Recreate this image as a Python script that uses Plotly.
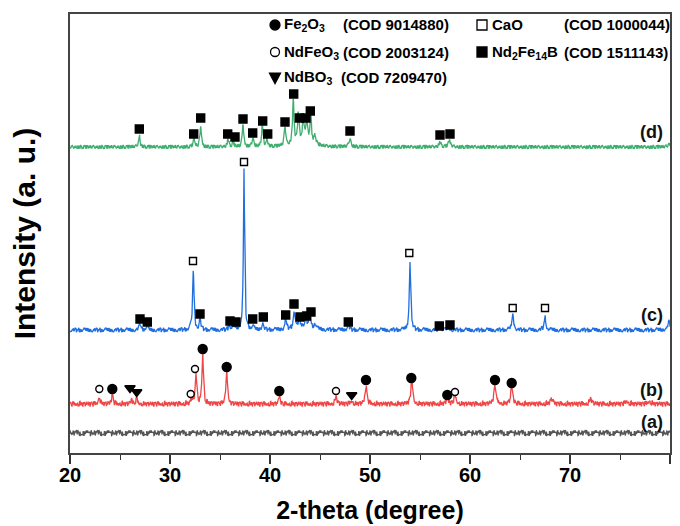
import numpy as np
import plotly.graph_objects as go

# ---------------- data ----------------
TWO_THETA = np.round(np.arange(20.0, 80.0001, 0.04), 3)

OFFSET_A, OFFSET_B, OFFSET_C, OFFSET_D = 20, 49, 123, 306

# (d) green pattern: Nd2Fe14B reflections
D_POS = [26.93, 32.40, 33.07, 35.80, 36.30, 37.30, 38.27, 39.23, 39.70, 41.50,
         42.33, 42.83, 43.33, 43.67, 44.07, 44.50, 43.30, 48.00, 57.00, 57.93, 79.9]
D_HGT = [12, 9, 22, 8, 6, 24, 10, 22, 8, 19,
         45, 30, 26, 24, 31, 9, 6, 8, 5, 7, 3]
D_WID = [0.09, 0.09, 0.08, 0.09, 0.09, 0.08, 0.09, 0.08, 0.09, 0.09,
         0.08, 0.08, 0.08, 0.08, 0.08, 0.12, 0.9, 0.12, 0.12, 0.12, 0.15]

# (c) blue pattern: CaO + Nd2Fe14B
C_POS = [27.00, 27.67, 32.33, 33.00, 35.93, 36.50, 37.40, 38.27, 39.27, 41.57,
         42.40, 42.93, 43.60, 44.00, 44.50, 43.30, 47.83, 54.00, 57.00, 57.90,
         64.27, 67.50, 79.90]
C_HGT = [7, 4, 61, 11, 6, 4, 160, 4, 7, 10,
         18, 7, 8, 11, 5, 4, 4, 69, 3, 3,
         16, 13, 8]
C_WID = [0.09, 0.09, 0.08, 0.09, 0.09, 0.09, 0.07, 0.09, 0.09, 0.09,
         0.09, 0.09, 0.09, 0.09, 0.12, 0.8, 0.12, 0.08, 0.12, 0.12,
         0.10, 0.10, 0.15]

# (b) red pattern: Fe2O3 + NdFeO3 + NdBO3
B_POS = [22.93, 24.23, 26.17, 26.67, 32.17, 32.60, 33.27, 35.67, 40.93, 46.60,
         48.17, 49.60, 54.17, 57.73, 58.50, 62.50, 64.17, 68.17, 72.07, 75.67, 77.93]
B_HGT = [7, 9, 4, 5, 5, 32, 52, 36, 8, 7,
         3, 19, 26, 6, 9, 19, 17, 5, 5, 3, 3]
B_WID = [0.09, 0.09, 0.1, 0.1, 0.1, 0.08, 0.08, 0.08, 0.09, 0.12,
         0.12, 0.10, 0.10, 0.12, 0.12, 0.12, 0.12, 0.15, 0.15, 0.15, 0.15]

# (a) gray pattern: amorphous, no reflections
A_POS = []
A_HGT = []
A_WID = []

# hand-read background jitter (fraction of amplitude)
JITTER = [0.3, -0.8, 0.5, 1.0, -0.4, -0.9, 0.7, 0.1, -0.6, 0.9, -0.2, 0.4, -1.0,
          0.6, 0.2, -0.7, 0.8, -0.3, 0.0, 0.5, -0.9, 0.3, 0.7, -0.5, -0.1, 0.9,
          -0.8, 0.4, 0.2, -0.6, 1.0, -0.4, 0.1, -0.7, 0.6, 0.3, -1.0, 0.8, -0.2,
          0.5, -0.5, 0.7, -0.9, 0.0, 0.4, -0.3, 0.9, -0.6, 0.2, -0.8, 0.6, -0.1, 0.3]
JITTER_AMP = {"a": 2.8, "b": 2.6, "c": 2.2, "d": 2.0}

# phase markers (2-theta, intensity)
D_NDFEB_X = [26.93, 32.37, 33.07, 35.77, 36.50, 37.30, 38.27, 39.27, 39.77, 41.50,
             42.37, 42.93, 43.60, 44.03, 48.00, 57.00, 58.00]
D_NDFEB_Y = [324, 319, 335, 319, 316, 334, 320, 332, 319, 331,
             359, 335, 335, 342, 322, 318, 319]

C_CAO_X = [32.30, 37.40, 53.93, 64.27, 67.50]
C_CAO_Y = [192, 291, 200, 145, 145]
C_NDFEB_X = [27.00, 27.73, 33.00, 36.00, 36.60, 38.27, 39.33, 41.57, 42.40, 43.00,
             43.67, 44.10, 47.83, 56.93, 58.00]
C_NDFEB_Y = [134, 131, 139, 132, 131, 134, 136, 138, 149, 136,
             137, 141, 131, 127, 128]

B_FE2O3_X = [24.23, 33.27, 35.67, 40.93, 49.60, 54.13, 57.73, 62.50, 64.17]
B_FE2O3_Y = [64, 104, 86, 62, 73, 75, 58, 73, 70]
B_NDFEO3_X = [22.93, 32.07, 32.50, 46.60, 58.50]
B_NDFEO3_Y = [64, 59, 84, 62, 61]
B_NDBO3_X = [26.00, 26.67, 48.17]
B_NDBO3_Y = [65, 61, 58]

X_TICKS = [20, 30, 40, 50, 60, 70, 80]
X_TITLE = "2-theta (degree)"
Y_TITLE = "Intensity (a. u.)"
SAMPLE_LABELS = ["(a)", "(b)", "(c)", "(d)"]


def pattern(pos, hgt, wid, offset, amp, shift, stride):
    y = np.full(TWO_THETA.shape, float(offset))
    for p, h, w in zip(pos, hgt, wid):
        y += h / (1.0 + ((TWO_THETA - p) / w) ** 2)
    n = len(JITTER)
    idx = (np.arange(len(TWO_THETA)) * stride + shift) % n
    y += amp * np.array(JITTER)[idx]
    return y


FONT = "Liberation Sans, Arial, sans-serif"

fig = go.Figure()

series = [
    ("a", A_POS, A_HGT, A_WID, OFFSET_A, "#555555", 3, 7),
    ("b", B_POS, B_HGT, B_WID, OFFSET_B, "#f04545", 11, 5),
    ("c", C_POS, C_HGT, C_WID, OFFSET_C, "#1f6fe0", 17, 3),
    ("d", D_POS, D_HGT, D_WID, OFFSET_D, "#3cae6e", 29, 2),
]
for name, pos, hgt, wid, off, col, shift, stride in series:
    fig.add_trace(go.Scatter(
        x=TWO_THETA, y=pattern(pos, hgt, wid, off, JITTER_AMP[name], shift, stride),
        mode="lines", line=dict(color=col, width=1.3), name=name,
        showlegend=False, hoverinfo="skip"))


def markers(x, y, symbol, size, fill="black"):
    fig.add_trace(go.Scatter(
        x=x, y=y, mode="markers", showlegend=False, hoverinfo="skip",
        marker=dict(symbol=symbol, size=size, color=fill,
                    line=dict(color="black", width=1.4))))


markers(D_NDFEB_X, D_NDFEB_Y, "square", 8)
markers(C_NDFEB_X, C_NDFEB_Y, "square", 8)
markers(C_CAO_X, C_CAO_Y, "square", 7, "white")
markers(B_FE2O3_X, B_FE2O3_Y, "circle", 9)
markers(B_NDFEO3_X, B_NDFEO3_Y, "circle", 7, "white")
markers(B_NDBO3_X, B_NDBO3_Y, "triangle-down", 9)

# ---------------- legend (drawn as shapes + text) ----------------
def py2paper(py):
    return (453 - py) / 439


def px2paper(px):
    return (px - 70) / 600


shapes = []


def sym_shape(kind, px, py, fill, size=10):
    h = size / 2
    base = dict(xref="paper", yref="paper", xsizemode="pixel", ysizemode="pixel",
                xanchor=px2paper(px), yanchor=py2paper(py),
                line=dict(color="black", width=1.3), fillcolor=fill)
    if kind == "circle":
        shapes.append(dict(type="circle", x0=-h, x1=h, y0=-h, y1=h, **base))
    elif kind == "square":
        shapes.append(dict(type="rect", x0=-h, x1=h, y0=-h, y1=h, **base))
    else:
        shapes.append(dict(type="path", path=f"M {-h},{h*0.9} L {h},{h*0.9} L 0,{-h} Z", **base))


sym_shape("circle", 275, 25, "black", 10)
sym_shape("circle", 275, 52, "white", 9)
sym_shape("tri", 275, 78, "black", 11)
sym_shape("square", 482, 25, "white", 10)
sym_shape("square", 482, 52, "black", 10)

LEGEND_ROWS = [
    ("Fe<sub>2</sub>O<sub>3</sub>", "(COD 9014880)", 282, 341, 25),
    ("NdFeO<sub>3</sub>", "(COD 2003124)", 282, 341, 52),
    ("NdBO<sub>3</sub>", "(COD 7209470)", 282, 339, 78),
    ("CaO", "(COD 1000044)", 490, 562, 25),
    ("Nd<sub>2</sub>Fe<sub>14</sub>B", "(COD 1511143)", 490, 562, 52),
]
annotations = []
for name, cod, x1, x2, py in LEGEND_ROWS:
    for txt, px in ((name, x1), (cod, x2)):
        annotations.append(dict(
            text=f"<b>{txt}</b>", xref="paper", yref="paper",
            x=px2paper(px), y=py2paper(py), xanchor="left", yanchor="middle",
            showarrow=False, font=dict(family=FONT, size=15, color="black")))

for lab, py in zip(SAMPLE_LABELS, [422, 390, 315, 132]):
    annotations.append(dict(
        text=f"<b>{lab}</b>", xref="paper", yref="paper",
        x=px2paper(665), y=py2paper(py), xanchor="right", yanchor="middle",
        showarrow=False, font=dict(family=FONT, size=18, color="#111111")))

fig.update_layout(
    width=680, height=526,
    margin=dict(l=70, r=10, t=14, b=73),
    paper_bgcolor="white", plot_bgcolor="white",
    shapes=shapes, annotations=annotations,
    xaxis=dict(
        range=[20, 80], tickvals=X_TICKS, ticktext=[f"<b>{v}</b>" for v in X_TICKS],
        ticks="outside", ticklen=9, tickwidth=1.5, tickcolor="#333333",
        ticklabelstandoff=-6,
        minor=dict(dtick=5, ticks="outside", ticklen=5, tickwidth=1.2, tickcolor="#333333"),
        showline=True, linecolor="#444444", linewidth=1.5, mirror=True,
        showgrid=False, zeroline=False, automargin=False,
        tickfont=dict(family=FONT, size=20, color="black"),
        title=dict(text=f"<b>{X_TITLE}</b>", standoff=17,
                   font=dict(family=FONT, size=25, color="black")),
    ),
    yaxis=dict(
        range=[0, 439], showticklabels=False, ticks="",
        showline=True, linecolor="#444444", linewidth=1.5, mirror=True,
        showgrid=False, zeroline=False, automargin=False,
        title=dict(text=f"<b>{Y_TITLE}</b>", standoff=24,
                   font=dict(family=FONT, size=30, color="black")),
    ),
)

fig.write_html("out.html", config={"displayModeBar": False},
               post_script="document.body.style.margin='0';document.body.style.overflow='hidden';")
